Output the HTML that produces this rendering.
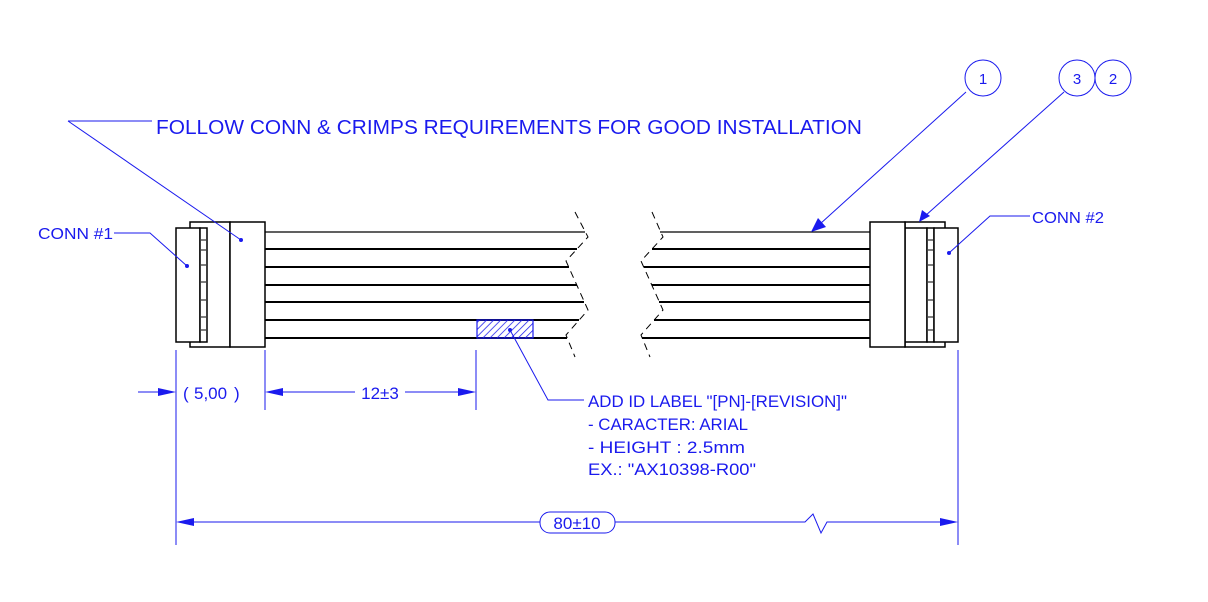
<!DOCTYPE html>
<html><head><meta charset="utf-8"><style>
html,body{margin:0;padding:0;background:#fff;}
svg{display:block;}
text{font-family:"Liberation Sans",Arial,sans-serif;fill:#1a1aee;}
</style></head><body>
<svg width="1208" height="602" viewBox="0 0 1208 602" xmlns="http://www.w3.org/2000/svg">
<defs>
<pattern id="h" width="5" height="5" patternUnits="userSpaceOnUse" patternTransform="rotate(45)">
<line x1="0" y1="0" x2="0" y2="5" stroke="#1a1aee" stroke-width="1.5"/>
</pattern>
</defs>
<rect width="1208" height="602" fill="#fff"/>

<g stroke="#000" stroke-width="1.5" fill="#fff">
<rect x="190" y="222" width="40" height="125"/>
<rect x="176" y="228" width="24" height="114"/>
<rect x="200" y="228" width="7" height="114"/>
<rect x="230" y="222" width="35" height="125"/>
</g>
<g stroke="#000" stroke-width="1">
<line x1="201" y1="240" x2="206" y2="240"/><line x1="201" y1="250" x2="206" y2="250"/>
<line x1="201" y1="265" x2="206" y2="265"/><line x1="201" y1="282" x2="206" y2="282"/>
<line x1="201" y1="300" x2="206" y2="300"/><line x1="201" y1="317" x2="206" y2="317"/>
<line x1="201" y1="330" x2="206" y2="330"/>
</g>

<g stroke="#000" stroke-width="2">
<line x1="265" y1="232" x2="585" y2="232" stroke-width="1.2"/>
<line x1="265" y1="249" x2="577" y2="249"/>
<line x1="265" y1="267" x2="569" y2="267"/>
<line x1="265" y1="285" x2="577" y2="285"/>
<line x1="265" y1="302" x2="584" y2="302"/>
<line x1="265" y1="320" x2="579" y2="320"/>
<line x1="265" y1="338" x2="567" y2="338"/>
</g>
<polyline points="575,212 588,237 566,261 588,310 566,335 575,357" fill="none" stroke="#000" stroke-width="1" stroke-dasharray="7,5"/>

<g stroke="#000" stroke-width="2">
<line x1="660" y1="232" x2="870" y2="232" stroke-width="1.2"/>
<line x1="652" y1="249" x2="870" y2="249"/>
<line x1="644" y1="267" x2="870" y2="267"/>
<line x1="652" y1="285" x2="870" y2="285"/>
<line x1="659" y1="302" x2="870" y2="302"/>
<line x1="654" y1="320" x2="870" y2="320"/>
<line x1="642" y1="338" x2="870" y2="338"/>
</g>
<polyline points="652,212 663,237 641,261 663,310 641,335 650,357" fill="none" stroke="#000" stroke-width="1" stroke-dasharray="7,5"/>

<g stroke="#000" stroke-width="1.5" fill="#fff">
<rect x="905" y="222" width="40" height="125"/>
<rect x="905" y="228" width="22" height="114"/>
<rect x="927" y="228" width="7" height="114"/>
<rect x="934" y="228" width="24" height="114"/>
<rect x="870" y="222" width="35" height="125"/>
</g>
<g stroke="#000" stroke-width="1">
<line x1="928" y1="240" x2="933" y2="240"/><line x1="928" y1="250" x2="933" y2="250"/>
<line x1="928" y1="265" x2="933" y2="265"/><line x1="928" y1="282" x2="933" y2="282"/>
<line x1="928" y1="300" x2="933" y2="300"/><line x1="928" y1="317" x2="933" y2="317"/>
<line x1="928" y1="330" x2="933" y2="330"/>
</g>

<rect x="477" y="320" width="56" height="18" fill="url(#h)" stroke="#1a1aee" stroke-width="1.2"/>

<g stroke="#1a1aee" stroke-width="1" fill="none">
<line x1="68" y1="121" x2="152" y2="121"/>
<line x1="68" y1="121" x2="241" y2="240"/>
<polyline points="114,233 150,233 187,266"/>
<polyline points="949,253 990,216 1030,216"/>
<polyline points="510,330 548,400 584,400"/>
<circle cx="983" cy="78" r="18"/>
<circle cx="1077" cy="78" r="18"/>
<circle cx="1113" cy="78" r="18"/>
<line x1="966" y1="92" x2="820" y2="224"/>
<line x1="1064" y1="92" x2="925" y2="216"/>
<line x1="176" y1="350" x2="176" y2="545"/>
<line x1="265" y1="350" x2="265" y2="410"/>
<line x1="476" y1="350" x2="476" y2="410"/>
<line x1="958" y1="350" x2="958" y2="545"/>
<line x1="138" y1="392" x2="165" y2="392"/>
<line x1="280" y1="392" x2="355" y2="392"/>
<line x1="405" y1="392" x2="462" y2="392"/>
<line x1="190" y1="522" x2="540" y2="522"/>
<polyline points="615,522 805,522 813,514 821,533 827,522 944,522"/>
<rect x="540" y="512" width="75" height="21" rx="10"/>
</g>
<g fill="#1a1aee">
<circle cx="241" cy="240" r="2"/>
<circle cx="187" cy="266" r="2"/>
<circle cx="949" cy="253" r="2"/>
<circle cx="510" cy="330" r="2"/>
<polygon points="811,232 818,218 826,227"/>
<polygon points="919,222 922,210 930,216"/>
<polygon points="176,392 158,388 158,396"/>
<polygon points="265,392 283,388 283,396"/>
<polygon points="476,392 458,388 458,396"/>
<polygon points="176,522 194,518 194,526"/>
<polygon points="958,522 940,518 940,526"/>
</g>

<text x="156" y="134" font-size="20.5" textLength="706" lengthAdjust="spacingAndGlyphs">FOLLOW CONN &amp; CRIMPS REQUIREMENTS FOR GOOD INSTALLATION</text>
<text x="38" y="239" font-size="16" textLength="75" lengthAdjust="spacingAndGlyphs">CONN #1</text>
<text x="1032" y="223" font-size="16" textLength="72" lengthAdjust="spacingAndGlyphs">CONN #2</text>
<text x="983" y="84" font-size="15" text-anchor="middle">1</text>
<text x="1077" y="84" font-size="15" text-anchor="middle">3</text>
<text x="1113" y="84" font-size="15" text-anchor="middle">2</text>
<text x="183" y="399" font-size="17">(</text>
<text x="194" y="399" font-size="17">5,00</text>
<text x="234" y="399" font-size="17">)</text>
<text x="380" y="399" font-size="17" text-anchor="middle">12±3</text>
<text x="577" y="529" font-size="17" text-anchor="middle">80±10</text>
<text x="588" y="407" font-size="16.5" textLength="259" lengthAdjust="spacingAndGlyphs">ADD ID LABEL "[PN]-[REVISION]"</text>
<text x="588" y="430" font-size="16.5" textLength="160" lengthAdjust="spacingAndGlyphs">- CARACTER: ARIAL</text>
<text x="588" y="453" font-size="16.5" textLength="157" lengthAdjust="spacingAndGlyphs">- HEIGHT : 2.5mm</text>
<text x="588" y="475" font-size="16.5" textLength="168" lengthAdjust="spacingAndGlyphs">EX.: "AX10398-R00"</text>
</svg>
</body></html>
